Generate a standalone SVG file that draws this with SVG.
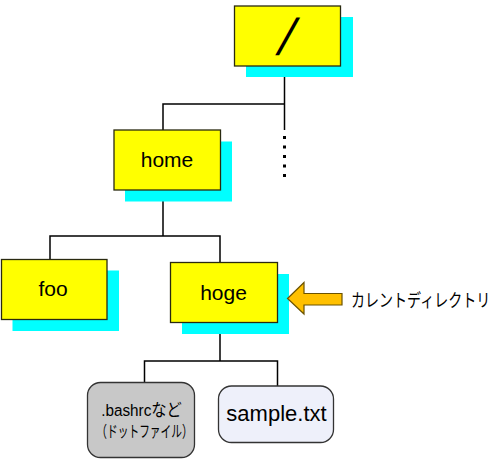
<svg xmlns="http://www.w3.org/2000/svg" width="498" height="460" viewBox="0 0 498 460">
<style>
.sh{fill:#00FFFF;stroke:none}
.bx{fill:#FFFF00;stroke:#2a2a10;stroke-width:1.3}
.t{font-family:"Liberation Sans","Noto Sans CJK JP",sans-serif;fill:#000;text-anchor:middle}
.ln{fill:none;stroke:#000;stroke-width:1.5}
.jp{font-family:"Noto Sans CJK JP","Liberation Sans",sans-serif}
</style>
<rect width="498" height="460" fill="#fff"/>
<g id="connectors">
<path class="ln" d="M284.5,66 V130 M284.5,104 H163 V130"/>
<g fill="#000">
<rect x="283" y="136" width="3" height="3"/>
<rect x="283" y="145.5" width="3" height="3"/>
<rect x="283" y="155" width="3" height="3"/>
<rect x="283" y="164.5" width="3" height="3"/>
<rect x="283" y="174" width="3" height="3"/>
</g>
<path class="ln" d="M163,190 V236 M50,259 V236 H220 V263"/>
<path class="ln" d="M220,322 V361 M144.5,383 V361 H277.5 V386"/>
</g>
<g id="root">
<rect class="sh" x="246" y="17" width="107" height="60"/>
<rect class="bx" x="234.5" y="6" width="106" height="60"/>
<text class="t" transform="translate(284,51) skewX(-14)" x="0" y="0" font-size="46" style="font-family:'DejaVu Sans',sans-serif">/</text>
</g>
<g id="home">
<rect class="sh" x="125" y="141.5" width="107" height="60"/>
<rect class="bx" x="114" y="130" width="106.5" height="60"/>
<text class="t" x="167" y="167" font-size="21">home</text>
</g>
<g id="foo">
<rect class="sh" x="12.5" y="270.5" width="106.5" height="60.5"/>
<rect class="bx" x="1.5" y="259.5" width="105.5" height="60"/>
<text class="t" x="53" y="295.5" font-size="21">foo</text>
</g>
<g id="hoge">
<rect class="sh" x="182" y="274" width="107" height="60"/>
<rect class="bx" x="170.5" y="262.5" width="107" height="60"/>
<text class="t" x="223.5" y="299.5" font-size="21">hoge</text>
</g>
<g id="current">
<path d="M287.5,298.5 L304,282.5 V293.5 H342 V305 H304 V314 Z" fill="#FFC000" stroke="#6b5200" stroke-width="1.2" stroke-linejoin="miter"/>
<text class="jp" transform="translate(351,306.5) scale(0.78,1)" x="0" y="0" font-size="18" fill="#000">カレントディレクトリ</text>
</g>
<g id="bashrc">
<rect x="87.5" y="382.5" width="107" height="75" rx="13" ry="13" fill="#C8C8C8" stroke="#333" stroke-width="1.3"/>
<text class="t" transform="translate(141.5,416) scale(0.9,1)" x="0" y="0" font-size="17" fill="#222">.bashrcなど</text>
<text class="t jp" transform="translate(144.5,437) scale(0.67,1)" x="0" y="0" font-size="16" fill="#222">（ドットファイル）</text>
</g>
<g id="sample">
<rect x="218.5" y="386" width="115" height="56.5" rx="13" ry="13" fill="#EEF0FA" stroke="#333" stroke-width="1.3"/>
<text class="t" x="276.5" y="421" font-size="22" fill="#111">sample.txt</text>
</g>
</svg>
